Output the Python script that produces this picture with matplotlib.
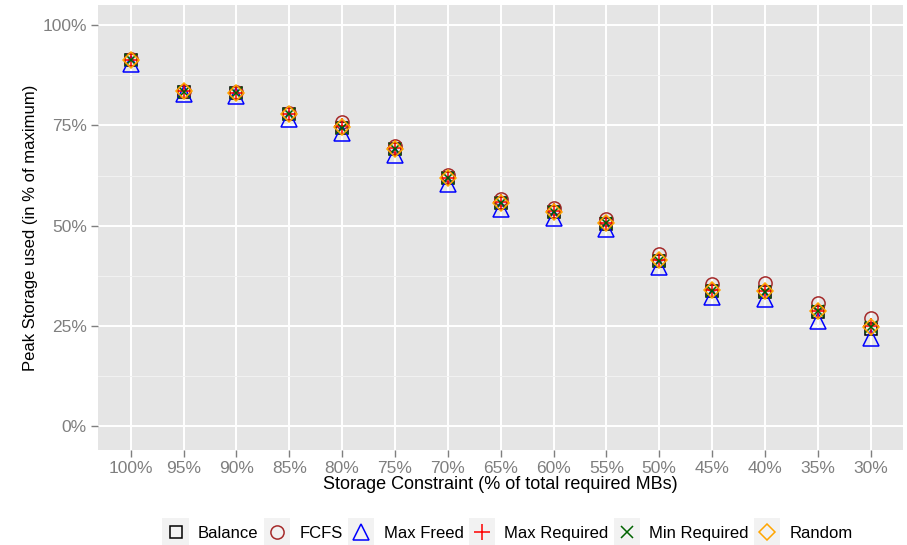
import numpy as np
import matplotlib
matplotlib.use("Agg")
import matplotlib.pyplot as plt
from matplotlib.legend_handler import HandlerLine2D
from matplotlib.patches import Rectangle
from matplotlib.lines import Line2D

plt.rcParams['font.family'] = ['Liberation Sans', 'DejaVu Sans']

constraints = ["100%", "95%", "90%", "85%", "80%", "75%", "70%", "65%",
               "60%", "55%", "50%", "45%", "40%", "35%", "30%"]

balance      = [91.3, 83.4, 83.0, 77.8, 74.3, 69.0, 61.8, 55.6, 53.3, 50.5, 41.2, 33.8, 33.5, 28.6, 24.3]
fcfs         = [91.5, 83.6, 83.2, 78.2, 75.9, 69.9, 62.7, 56.7, 54.5, 51.7, 43.0, 35.4, 35.7, 30.8, 26.9]
max_freed    = [90.3, 82.8, 82.3, 76.6, 73.2, 67.5, 60.3, 54.1, 52.0, 49.1, 39.8, 32.3, 31.8, 26.2, 22.0]
max_required = [91.4, 83.5, 83.1, 77.9, 74.8, 69.3, 62.0, 55.8, 53.6, 50.8, 41.5, 34.0, 33.8, 28.8, 25.0]
min_required = [91.3, 83.4, 83.0, 77.8, 74.4, 69.1, 61.8, 55.6, 53.4, 50.6, 41.3, 33.8, 33.6, 28.7, 24.8]
random_      = [91.4, 83.5, 83.1, 77.9, 74.6, 69.2, 61.9, 55.7, 53.5, 50.7, 41.4, 33.9, 33.7, 28.8, 24.9]

series = [
    ("Balance", balance, "s", "black", 9),
    ("FCFS", fcfs, "o", "#A52A2A", 9.5),
    ("Max Freed", max_freed, "^", "#0000FF", 12),
    ("Max Required", max_required, "+", "#FF0000", 11),
    ("Min Required", min_required, "x", "#006400", 8.5),
    ("Random", random_, "D", "#FFA500", 8.5),
]


class KeyHandler(HandlerLine2D):
    # grey key box behind each legend marker, ggplot style
    def create_artists(self, legend, orig_handle, xdescent, ydescent,
                       width, height, fontsize, trans):
        arts = super().create_artists(legend, orig_handle, xdescent, ydescent,
                                      width, height, fontsize, trans)
        side = 19
        cx = width / 2 - xdescent
        cy = height / 2 - ydescent
        bg = Rectangle((cx - side / 2, cy - side / 2), side, side,
                       facecolor="#F2F2F2", edgecolor="none", transform=trans)
        return [bg] + arts


fig = plt.figure(figsize=(9.07, 5.45), dpi=100)
ax = fig.add_axes([0.108, 0.174, 0.888, 0.817])
ax.set_facecolor("#E5E5E5")

x = np.arange(len(constraints))
handles = []
for name, vals, mk, col, ms in series:
    ax.plot(x, vals, linestyle="none", marker=mk, markersize=ms,
            markerfacecolor="none", markeredgecolor=col, markeredgewidth=1.1,
            zorder=3)
    handles.append(Line2D([], [], linestyle="none", marker=mk, markersize=ms,
                          markerfacecolor="none", markeredgecolor=col,
                          markeredgewidth=1.1, label=name))

ax.set_xlim(-0.62, len(constraints) - 1 + 0.62)
ax.set_ylim(-5.9, 105)
ax.set_xticks(x)
ax.set_xticklabels(constraints)
ax.set_yticks([0, 25, 50, 75, 100])
ax.set_yticklabels(["0%", "25%", "50%", "75%", "100%"])
ax.set_yticks([12.5, 37.5, 62.5, 87.5], minor=True)

ax.grid(which="major", color="white", linewidth=1.4, zorder=1)
ax.grid(which="minor", axis="y", color="#F2F2F2", linewidth=0.7, zorder=1)
ax.set_axisbelow(True)
for s in ax.spines.values():
    s.set_visible(False)

ax.tick_params(which="major", colors="#7F7F7F", labelsize=12.5, length=5,
               width=1, labelcolor="#7F7F7F", pad=3)
ax.tick_params(which="minor", length=0)

ax.set_xlabel("Storage Constraint (% of total required MBs)", fontsize=13,
              labelpad=0)
ax.set_ylabel("Peak Storage used (in % of maximum)", fontsize=12,
              labelpad=3)

fig.legend(handles=handles, loc="center", bbox_to_anchor=(0.561, 0.022),
           ncol=6, frameon=False, fontsize=12, handlelength=1.3,
           handletextpad=0.7, columnspacing=0.45,
           handler_map={Line2D: KeyHandler()})

fig.savefig("out.png", dpi=100)
